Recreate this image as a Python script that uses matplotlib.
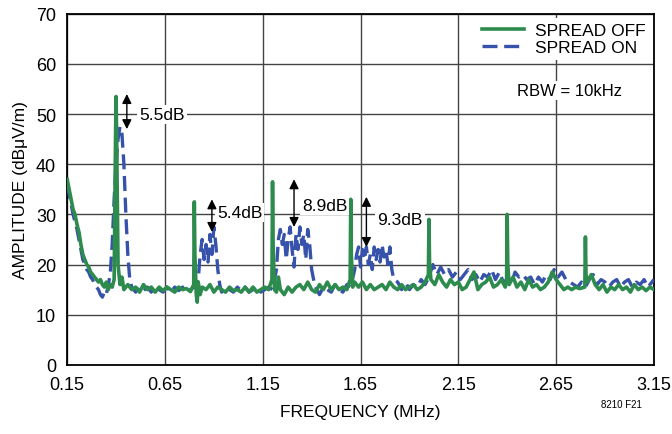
import matplotlib
matplotlib.use("Agg")
import matplotlib.pyplot as plt

plt.rcParams['font.family'] = ['Liberation Sans', 'DejaVu Sans']

# SPREAD OFF trace (MHz, dBuV/m)
off_f = [0.15, 0.16, 0.17, 0.18, 0.19, 0.20, 0.21, 0.22, 0.23, 0.24, 0.25, 0.26, 0.27, 0.28, 0.29,
         0.30, 0.31, 0.32, 0.33, 0.34, 0.35, 0.36, 0.37, 0.38, 0.39, 0.397, 0.40, 0.403, 0.41, 0.42,
         0.43, 0.44, 0.46, 0.48, 0.50, 0.52, 0.54, 0.56, 0.58, 0.60, 0.62, 0.64, 0.66, 0.68, 0.70,
         0.72, 0.74, 0.76, 0.78, 0.797, 0.80, 0.803, 0.81, 0.815, 0.82, 0.83, 0.84, 0.86, 0.88, 0.90,
         0.92, 0.94, 0.96, 0.98, 1.00, 1.02, 1.04, 1.06, 1.08, 1.10, 1.12, 1.14, 1.16, 1.18, 1.197,
         1.20, 1.203, 1.21, 1.22, 1.23, 1.24, 1.26, 1.28, 1.30, 1.32, 1.34, 1.36, 1.38, 1.40, 1.42,
         1.44, 1.46, 1.48, 1.50, 1.52, 1.54, 1.56, 1.58, 1.597, 1.60, 1.603, 1.61, 1.62, 1.64, 1.66,
         1.68, 1.70, 1.72, 1.74, 1.76, 1.78, 1.80, 1.82, 1.84, 1.86, 1.88, 1.90, 1.92, 1.94, 1.96,
         1.98, 1.997, 2.00, 2.003, 2.01, 2.03, 2.05, 2.07, 2.09, 2.11, 2.13, 2.15, 2.17, 2.19, 2.21,
         2.23, 2.25, 2.27, 2.29, 2.31, 2.33, 2.35, 2.37, 2.39, 2.397, 2.40, 2.403, 2.41, 2.43, 2.45,
         2.47, 2.49, 2.51, 2.53, 2.55, 2.57, 2.59, 2.61, 2.63, 2.65, 2.67, 2.69, 2.71, 2.73, 2.75,
         2.77, 2.797, 2.80, 2.803, 2.81, 2.83, 2.85, 2.87, 2.89, 2.91, 2.93, 2.95, 2.97, 2.99, 3.01,
         3.03, 3.05, 3.07, 3.09, 3.11, 3.13, 3.15]
off_a = [37, 35, 33, 31, 30, 28, 26.5, 24, 22, 21, 20, 19.5, 18.5, 18, 17.5,
         17, 16.5, 17, 16, 15.5, 16.5, 15, 16, 15.5, 17, 45, 53.5, 45, 20, 16,
         17.5, 15, 16, 15, 15.5, 14.5, 16, 15, 15.5, 14.5, 15.5, 14.8, 15.5, 15, 14.5,
         15.5, 15, 15.2, 14.6, 16, 32.5, 22, 14, 12.5, 16.5, 14, 15.5, 15, 16, 14.5,
         15.5, 15, 14.5, 15.5, 14.8, 15, 14.5, 15.5, 14.5, 15.5, 14.5, 15, 15.5, 15, 17,
         36.5, 24, 15, 14.5, 17.5, 15, 14, 15.5, 14.5, 15.5, 16, 15, 16.5, 15, 14.5,
         16, 15, 16.5, 15, 16, 15, 15.5, 15, 17, 33, 22, 15.5, 16.5, 15.5, 16.5,
         15, 16, 15, 15.5, 16, 15, 16.5, 15.5, 15, 16, 15, 15.5, 16, 15, 15.5,
         16.5, 18, 29, 20, 17, 16, 18, 16.5, 15.5, 17, 16, 16.5, 15, 15.5, 17,
         18.5, 15, 16, 16.5, 17.5, 15.5, 16, 17, 15.5, 17, 30, 20, 16, 17.5, 15.5,
         16.5, 15, 17, 15.5, 16, 15, 15.5, 16.5, 18.5, 17, 16, 15, 15.5, 15, 15.5,
         15.2, 15.5, 25.5, 18, 16.5, 18, 16, 15, 16, 14.5, 15.5, 15, 16, 15, 15.5,
         14.5, 16, 15, 15.5, 14.8, 15.5, 15]

# SPREAD ON trace (MHz, dBuV/m)
on_f = [0.15, 0.16, 0.17, 0.18, 0.19, 0.20, 0.21, 0.22, 0.23, 0.24, 0.25, 0.26, 0.27, 0.28, 0.29,
        0.30, 0.31, 0.32, 0.33, 0.34, 0.35, 0.36, 0.37, 0.38, 0.39, 0.40, 0.41, 0.42, 0.43, 0.44,
        0.45, 0.46, 0.47, 0.48, 0.50, 0.52, 0.54, 0.56, 0.58, 0.60, 0.62, 0.64, 0.66, 0.68, 0.70,
        0.72, 0.74, 0.76, 0.78, 0.80, 0.82, 0.83, 0.84, 0.85, 0.86, 0.87, 0.88, 0.89, 0.90, 0.91,
        0.92, 0.93, 0.94, 0.96, 0.98, 1.00, 1.02, 1.04, 1.06, 1.08, 1.10, 1.12, 1.14, 1.16, 1.18,
        1.20, 1.22, 1.23, 1.24, 1.25, 1.26, 1.27, 1.28, 1.29, 1.30, 1.31, 1.32, 1.33, 1.34, 1.35,
        1.36, 1.37, 1.38, 1.39, 1.40, 1.41, 1.42, 1.44, 1.46, 1.48, 1.50, 1.52, 1.54, 1.56, 1.58,
        1.60, 1.62, 1.63, 1.64, 1.65, 1.66, 1.67, 1.68, 1.69, 1.70, 1.71, 1.72, 1.73, 1.74, 1.75,
        1.76, 1.77, 1.78, 1.79, 1.80, 1.81, 1.82, 1.84, 1.86, 1.88, 1.90, 1.92, 1.94, 1.96, 1.98,
        2.00, 2.02, 2.04, 2.06, 2.08, 2.10, 2.12, 2.14, 2.16, 2.18, 2.20, 2.22, 2.24, 2.26, 2.28,
        2.30, 2.32, 2.34, 2.36, 2.38, 2.40, 2.42, 2.44, 2.46, 2.48, 2.50, 2.52, 2.54, 2.56, 2.58,
        2.60, 2.62, 2.64, 2.66, 2.68, 2.70, 2.72, 2.74, 2.76, 2.78, 2.80, 2.82, 2.84, 2.86, 2.88,
        2.90, 2.92, 2.94, 2.96, 2.98, 3.00, 3.02, 3.04, 3.06, 3.08, 3.10, 3.12, 3.14, 3.15]
on_a = [36, 34, 32, 30, 28.5, 27, 25, 23, 21, 20, 19, 18.5, 17.5, 17, 16,
        15.5, 15, 14, 13.5, 14.5, 14, 16, 18, 24, 33, 40, 45, 47.5, 46, 40,
        30, 22, 17, 15.5, 14.5, 15.5, 14.8, 15.5, 14.5, 15.5, 15, 14.5, 15.5, 14.5, 15.5,
        14.8, 15.5, 14.5, 15, 15.5, 17, 22, 25, 21, 24, 20.5, 26, 22, 27.5, 24,
        19, 16, 14.5, 15.5, 15, 14.5, 15.5, 14.8, 15.5, 14.5, 15, 15.5, 14.5, 15, 15.5,
        15, 19, 25, 27, 24, 26, 21, 25, 27.5, 23, 19.5, 26, 23, 27.5, 24,
        26, 21, 27, 24, 19, 17, 15.5, 14, 15.5, 15, 14.5, 16, 15, 14.5, 16,
        15.5, 19, 22, 23.5, 19.5, 23, 21, 23.5, 20, 22, 19, 23.5, 21, 23, 20.5,
        24, 21.5, 23, 20, 23.5, 19, 17, 16.5, 15, 16.5, 15, 16, 15.5, 17, 16,
        17.5, 20, 18, 19.5, 18, 19, 17.5, 18.5, 17, 18, 19, 17, 18, 16.5, 18,
        17.5, 19, 17, 18.5, 16.5, 17, 16, 18.5, 17.5, 18, 17, 17.5, 16, 17.5, 16.5,
        18, 17, 19, 17.5, 18.5, 17, 16.5, 16, 15.5, 16.5, 15.5, 17, 18, 16, 17,
        16.5, 15.5, 16.5, 17, 15.5, 16.5, 17, 15.5, 16.5, 16, 17, 15.5, 16.5, 17]

# delta annotations: (arrow x, top, bottom, text x, text y, label)
arr_x = [0.455, 0.89, 1.31, 1.68]
arr_top = [54, 33, 37, 33.5]
arr_bot = [47, 26.5, 27.5, 23.5]
lab_x = [0.52, 0.915, 1.35, 1.735]
lab_y = [50, 30.3, 31.8, 29]
labels = ['5.5dB', '5.4dB', '8.9dB', '9.3dB']

green = '#2e8b4e'
blue = '#3652aa'

fig, ax = plt.subplots(figsize=(6.72, 4.35), dpi=100)
fig.subplots_adjust(left=0.1, right=0.973, top=0.966, bottom=0.159)

ax.plot(on_f, on_a, color=blue, lw=2.4, ls=(0, (4.5, 2)), label='SPREAD ON', zorder=3)
ax.plot(off_f, off_a, color=green, lw=2.6, label='SPREAD OFF', zorder=4)

for xa, t, b, tx, ty, s in zip(arr_x, arr_top, arr_bot, lab_x, lab_y, labels):
    ax.annotate('', xy=(xa, t), xytext=(xa, b),
                arrowprops=dict(arrowstyle='<|-|>', color='black', lw=1.0,
                                mutation_scale=14, shrinkA=0, shrinkB=0), zorder=6)
    ax.text(tx, ty, s, fontsize=12.5, ha='left', va='center', zorder=5,
            bbox=dict(facecolor='white', edgecolor='none', pad=1.5))

ax.text(2.72, 54.8, 'RBW = 10kHz', fontsize=12, ha='center', va='center',
        bbox=dict(facecolor='white', edgecolor='none', pad=1.5), zorder=5)

ax.set_xlim(0.15, 3.15)
ax.set_ylim(0, 70)
ax.set_xticks([0.15, 0.65, 1.15, 1.65, 2.15, 2.65, 3.15])
ax.set_xticklabels(['0.15', '0.65', '1.15', '1.65', '2.15', '2.65', '3.15'])
ax.set_yticks([0, 10, 20, 30, 40, 50, 60, 70])
ax.tick_params(labelsize=13, length=0)
ax.tick_params(axis='x', pad=8)
ax.tick_params(axis='y', pad=8)
ax.grid(True, color='#444444', lw=1.0)
ax.set_axisbelow(True)
for sp in ax.spines.values():
    sp.set_linewidth(1.3)
    sp.set_color('black')

ax.set_xlabel('FREQUENCY (MHz)', fontsize=12.5, labelpad=8)
ax.set_ylabel('AMPLITUDE (dBμV/m)', fontsize=12.5, labelpad=6)

h, l = ax.get_legend_handles_labels()
leg = ax.legend(h[::-1], l[::-1], loc='upper right', fontsize=12.5, frameon=True,
                facecolor='white', edgecolor='none', framealpha=1,
                handlelength=2.4, handletextpad=0.6, borderpad=0.25,
                labelspacing=0.15, borderaxespad=0.25)
leg.set_zorder(7)

fig.text(0.955, 0.069, '8210 F21', fontsize=7, ha='right', va='center')

fig.savefig('out.png', dpi=100)
